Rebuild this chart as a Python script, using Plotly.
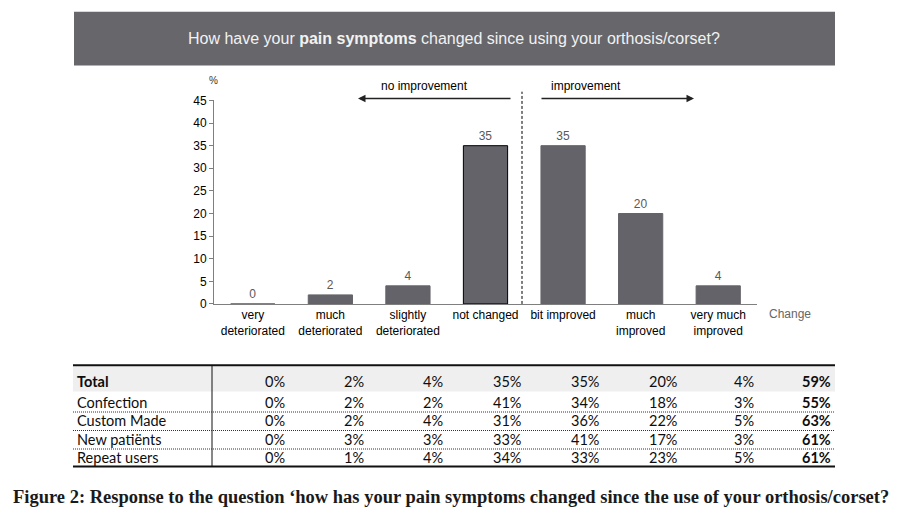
import plotly.graph_objects as go

# ---------------- data ----------------
categories = ["very<br>deteriorated", "much<br>deteriorated", "slightly<br>deteriorated",
              "not changed", "bit improved", "much<br>improved", "very much<br>improved"]
pain_change = [0, 2, 4, 35, 35, 20, 4]
y_ticks = [0, 5, 10, 15, 20, 25, 30, 35, 40, 45]

row_labels = ["Total", "Confection", "Custom Made", "New patiënts", "Repeat users"]
total_row = [0, 2, 4, 35, 35, 20, 4, 59]
confection_row = [0, 2, 2, 41, 34, 18, 3, 55]
custom_made_row = [0, 2, 4, 31, 36, 22, 5, 63]
new_patients_row = [0, 3, 3, 33, 41, 17, 3, 61]
repeat_users_row = [0, 1, 4, 34, 33, 23, 5, 61]
table_rows = [total_row, confection_row, custom_made_row, new_patients_row, repeat_users_row]

title_text = "How have your <b>pain symptoms</b> changed since using your orthosis/corset?"
caption_text = "Figure 2: Response to the question \u2018how has your pain symptoms changed since the use of your orthosis/corset?"

# ---------------- helpers ----------------
W, H = 904, 530
def px(x):
    return x / W
def py(y):
    return 1 - y / H

BAR = "#636369"
ARIAL = "Liberation Sans, Arial, sans-serif"
TABLE_FONT = "Lato, Open Sans, sans-serif"

fig = go.Figure()
fig.add_trace(go.Bar(
    x=list(range(len(categories))), y=pain_change,
    width=0.57,
    marker=dict(color=BAR,
                line=dict(color=["#000000" if c == "not changed" else BAR for c in categories],
                          width=1)),
    text=[str(v) for v in pain_change], textposition="outside",
    textfont=dict(family=ARIAL, size=12, color="#595959"),
    cliponaxis=False, hoverinfo="skip",
))

shapes = []
annotations = []

def note(x, y, text, size, color, family=ARIAL, xanchor="center"):
    annotations.append(dict(xref="paper", yref="paper", x=px(x), y=py(y),
                            xanchor=xanchor, yanchor="middle", text=text, showarrow=False,
                            font=dict(family=family, size=size, color=color)))

# header box
shapes.append(dict(type="rect", xref="paper", yref="paper",
                   x0=px(74), x1=px(835), y0=py(60), y1=py(5),
                   fillcolor="#66666b", line=dict(width=0), layer="below"))
note(454, 32, title_text, 16, "#f2f2f2")

# dashed divider
shapes.append(dict(type="line", xref="paper", yref="paper",
                   x0=px(522), x1=px(522), y0=py(305), y1=py(87),
                   line=dict(color="#000000", width=1, dash="3px,2px")))

# arrows and labels
for tip, tail in [(358, 512), (694, 540)]:
    annotations.append(dict(xref="paper", yref="paper", x=px(tip), y=py(94),
                            ax=tail - tip, ay=0, axref="pixel", ayref="pixel", text="",
                            showarrow=True, arrowhead=2, arrowsize=1, arrowwidth=1.5,
                            arrowcolor="#222222"))
note(424, 81, "no improvement", 12, "#000000")
note(586, 81, "improvement", 12, "#000000")

# axis extras
note(213, 76, "%", 10, "#333333")
note(790, 315, "Change", 12, "#666666")

# ---------------- table ----------------
tbl_left, tbl_right, tbl_div = 73, 835, 212
row_bounds = [369, 395, 416, 435, 454, 472]
col_right = [287, 366, 445, 523, 601, 679, 756, 833]

shapes.append(dict(type="rect", xref="paper", yref="paper",
                   x0=px(tbl_left), x1=px(tbl_right), y0=py(row_bounds[1]), y1=py(row_bounds[0]),
                   fillcolor="#efefef", line=dict(width=0), layer="below"))
for yl in (368, 472):
    shapes.append(dict(type="line", xref="paper", yref="paper",
                       x0=px(tbl_left), x1=px(tbl_right), y0=py(yl), y1=py(yl),
                       line=dict(color="#111111", width=2)))
shapes.append(dict(type="line", xref="paper", yref="paper",
                   x0=px(tbl_div), x1=px(tbl_div), y0=py(472), y1=py(368),
                   line=dict(color="#111111", width=1)))
for yb in row_bounds[2:-1]:
    shapes.append(dict(type="line", xref="paper", yref="paper",
                       x0=px(tbl_left), x1=px(tbl_right), y0=py(yb), y1=py(yb),
                       line=dict(color="#333333", width=1, dash="1px,1px")))

row_centers = [385, 406, 425, 444, 463]
for i, (lab, vals) in enumerate(zip(row_labels, table_rows)):
    yc = row_centers[i]
    note(75, yc, f"<b>{lab}</b>" if i == 0 else lab, 14.5, "#0d0d0d", TABLE_FONT, "left")
    for j, v in enumerate(vals):
        t = f"{v}%"
        if j == len(vals) - 1:
            t = f"<b>{t}</b>"
        note(col_right[j], yc, t, 14.5, "#0d0d0d", TABLE_FONT, "right")

# caption
note(451, 503, f"<b>{caption_text}</b>", 18.5, "#1a1a1a",
     "Liberation Serif, Times New Roman, serif")

fig.update_layout(
    width=W, height=H, margin=dict(l=0, r=0, t=0, b=0),
    paper_bgcolor="white", plot_bgcolor="white",
    showlegend=False,
    shapes=shapes, annotations=annotations,
    xaxis=dict(domain=[px(214), px(757)], range=[-0.5, 6.5],
               tickmode="array", tickvals=list(range(len(categories))), ticktext=categories,
               showline=True, linecolor="#7f7f7f", linewidth=1, ticks="",
               showgrid=False, zeroline=False,
               tickfont=dict(family=ARIAL, size=12, color="#000000")),
    yaxis=dict(domain=[py(305), py(96)], range=[0, 45],
               tickmode="array", tickvals=y_ticks,
               showline=True, linecolor="#7f7f7f", linewidth=1,
               ticks="outside", ticklen=4, tickcolor="#7f7f7f",
               showgrid=False, zeroline=False,
               tickfont=dict(family=ARIAL, size=12, color="#000000")),
)

fig.write_html("out.html", config={"displayModeBar": False},
               post_script="document.body.style.margin='0px';document.body.style.padding='0px';"
                           "document.documentElement.style.overflow='hidden';")
